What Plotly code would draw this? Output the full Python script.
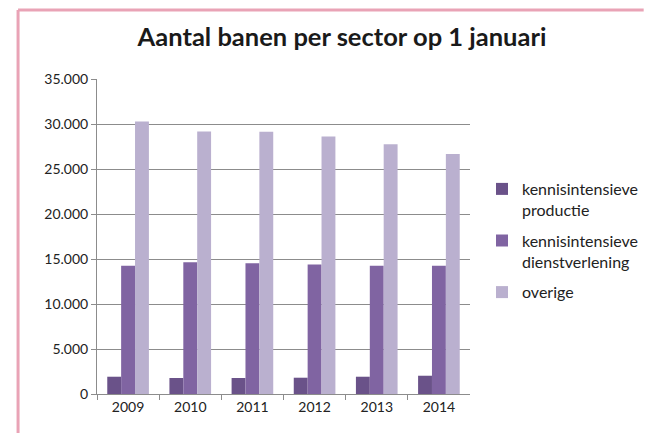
import plotly.graph_objects as go

# Jobs per sector on 1 January
years = ["2009", "2010", "2011", "2012", "2013", "2014"]
productie = [1920, 1780, 1780, 1810, 1920, 2030]
dienstverlening = [14240, 14650, 14540, 14390, 14240, 14240]
overige = [30270, 29160, 29150, 28600, 27750, 26670]

series = [
    ("kennisintensieve<br>productie", productie, "#6a5289"),
    ("kennisintensieve<br>dienstverlening", dienstverlening, "#8064a2"),
    ("overige", overige, "#bab0cf"),
]

W, H = 646, 433
ML, MR, MT, MB = 97, 171, 79, 39
font = "Lato, 'Open Sans', sans-serif"

fig = go.Figure()
for i, (name, vals, col) in enumerate(series):
    fig.add_trace(go.Bar(x=years, y=vals, name=name, legendgroup=f"g{i}",
                         marker=dict(color=col, line=dict(width=0))))

pw, ph = W - ML - MR, H - MT - MB


def px_to_paper_x(px):
    return (px - ML) / pw


def px_to_paper_y(py):
    return (H - MB - py) / ph


frame = "#e9a3b6"
fig.add_shape(type="line", xref="paper", yref="paper",
              x0=px_to_paper_x(17), x1=px_to_paper_x(W + 5),
              y0=px_to_paper_y(10), y1=px_to_paper_y(10),
              line=dict(color=frame, width=3))
fig.add_shape(type="line", xref="paper", yref="paper",
              x0=px_to_paper_x(17), x1=px_to_paper_x(17),
              y0=px_to_paper_y(10), y1=px_to_paper_y(H + 5),
              line=dict(color=frame, width=3))

fig.update_layout(
    width=W, height=H,
    margin=dict(l=ML, r=MR, t=MT, b=MB),
    paper_bgcolor="white", plot_bgcolor="white",
    separators=",.",
    barmode="group", bargap=0.33, bargroupgap=0,
    font=dict(family=font, size=14, color="#222222"),
    title=dict(text="<b>Aantal banen per sector op 1 januari</b>",
               x=342 / W, xanchor="center", xref="container",
               y=1 - 37 / H, yanchor="middle", yref="container",
               font=dict(family=font, size=25.5, color="#1a1a1a")),
    legend=dict(xref="container", yref="container", x=482 / W, y=1 - 172 / H,
                xanchor="left", yanchor="top", tracegroupgap=7, valign="top",
                font=dict(family=font, size=16, color="#222222"),
                itemwidth=30, bgcolor="rgba(0,0,0,0)"),
    xaxis=dict(showline=True, linecolor="#8c8c8c", linewidth=1,
               ticks="outside", tickson="boundaries", ticklen=5, tickcolor="#8c8c8c",
               showgrid=False, tickfont=dict(size=14)),
    yaxis=dict(range=[0, 35000], dtick=5000, tickformat=",d",
               showline=True, linecolor="#8c8c8c", linewidth=1,
               ticks="outside", ticklen=5, tickcolor="#8c8c8c",
               showgrid=True, gridcolor="#8c8c8c", gridwidth=1,
               zeroline=False, tickfont=dict(size=14)),
)

fig.write_html("out.html")
